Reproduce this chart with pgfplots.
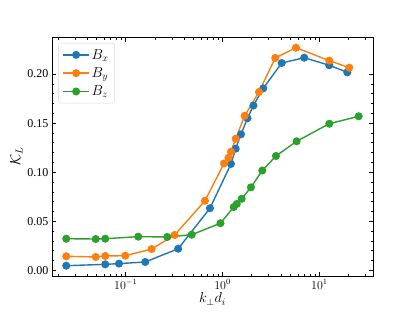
\documentclass[border=0pt]{standalone}
\usepackage{fontspec}
\setmainfont{Liberation Serif}
\usepackage{pgfplots}
\pgfplotsset{compat=1.18}
\definecolor{cb}{HTML}{1F77B4}
\definecolor{co}{HTML}{FF7F0E}
\definecolor{cg}{HTML}{2CA02C}
\begin{document}
\begin{tikzpicture}
\begin{axis}[
  scale only axis, width=321pt, height=239pt,
  xmode=log, xmin=0.0173, xmax=35.8,
  ymin=-0.0058, ymax=0.2378,
  ytick={0,0.05,0.1,0.15,0.2},
  minor y tick num=4,
  tick align=inside,
  major tick length=4.5pt, minor tick length=2.5pt,
  every tick/.style={black, line width=0.6pt},
  axis line style={black, line width=0.8pt},
  tick label style={font=\fontsize{12}{14}\selectfont},
  yticklabel style={/pgf/number format/.cd, fixed, zerofill, precision=2, assume math mode=true},
  xlabel={$k_\perp d_i$}, ylabel={$\mathcal{K}_L$},
  label style={font=\fontsize{14}{16}\selectfont},
  xlabel style={yshift=3pt},
  ylabel style={yshift=-2pt},
  legend style={at={(0.02,0.975)}, anchor=north west, draw=black!15, rounded corners=2pt,
    font=\fontsize{14}{15}\selectfont, row sep=3pt, inner xsep=4pt, inner ysep=4pt},
  legend cell align=left,
  legend image code/.code={\draw[mark repeat=2,mark phase=2] plot coordinates {(0cm,0cm)(0.45cm,0cm)(0.9cm,0cm)};},
  every axis plot/.append style={line width=1.4pt, mark=*, mark size=3.3pt},
]
\addplot[color=cb] coordinates {
(0.02428,0.0047)(0.0614,0.0061)(0.0851,0.0068)(0.159,0.0085)(0.348,0.022)
(0.741,0.0633)(1.221,0.1084)(1.366,0.124)(1.549,0.1386)(1.808,0.155)
(2.084,0.168)(2.632,0.1855)(4.08,0.2113)(6.98,0.2167)(12.65,0.209)(19.42,0.2018)};
\addlegendentry{$B_x$}
\addplot[color=co] coordinates {
(0.02428,0.0143)(0.0489,0.0136)(0.0614,0.0146)(0.0989,0.0149)(0.185,0.0217)
(0.320,0.036)(0.658,0.0709)(1.034,0.1089)(1.151,0.1147)(1.221,0.1209)
(1.366,0.1341)(1.692,0.1575)(2.376,0.1818)(3.502,0.2164)(5.73,0.2269)
(12.65,0.2137)(20.37,0.2065)};
\addlegendentry{$B_y$}
\addplot[color=cg] coordinates {
(0.02428,0.0322)(0.0489,0.0319)(0.0614,0.0322)(0.1346,0.0343)(0.2684,0.034)
(0.480,0.0363)(0.951,0.048)(1.305,0.0645)(1.402,0.0676)(1.575,0.0729)
(1.965,0.0846)(2.570,0.1017)(3.56,0.1165)(5.82,0.1315)(12.65,0.1494)(25.47,0.157)};
\addlegendentry{$B_z$}
\end{axis}
\path (current axis.south west) ++(-52pt,-35pt);
\path (current axis.north east) ++(42pt,37pt);
\end{tikzpicture}
\end{document}
